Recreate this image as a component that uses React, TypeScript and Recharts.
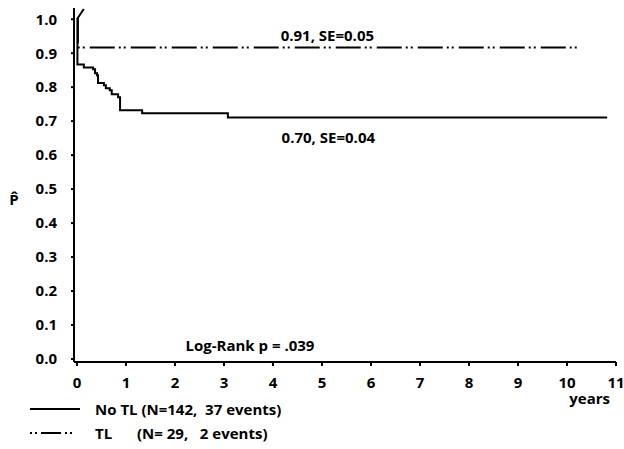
import { LineChart, Line, XAxis, YAxis, ReferenceDot, Label } from "recharts";

const FONT = "'Open Sans', 'Liberation Sans', sans-serif";

// No TL (N=142, 37 events) - Kaplan-Meier steps
const noTlTimes = [0, 0.01, 0.14, 0.33, 0.37, 0.41, 0.43, 0.55, 0.59, 0.67, 0.71, 0.84, 0.88, 1.33, 3.08, 10.82];
const noTlP = [1.0, 0.867, 0.858, 0.853, 0.841, 0.835, 0.812, 0.806, 0.797, 0.791, 0.779, 0.77, 0.732, 0.723, 0.711, 0.711];

// TL (N=29, 2 events)
const tlTimes = [0, 0.02, 10.2];
const tlP = [1.0, 0.917, 0.917];

// small stroke above the top left corner in the original
const markTimes = [0, 0.14];
const markP = [1.0, 1.03];

const xTicks = [0, 1, 2, 3, 4, 5, 6, 7, 8, 9, 10, 11];
const yTicks = [0, 0.1, 0.2, 0.3, 0.4, 0.5, 0.6, 0.7, 0.8, 0.9, 1.0];

const toRows = (ts: number[], ps: number[]) => ts.map((t, i) => ({ t, p: ps[i] }));
const noTlData = toRows(noTlTimes, noTlP);
const tlData = toRows(tlTimes, tlP);
const markData = toRows(markTimes, markP);

const TL_DASH = "25 4 2 3 2 5";

const labelStyle = { fill: "#000", fontSize: 15, fontWeight: 700, fontFamily: FONT };

// P-hat axis title, sits left of the tick labels a bit below mid-height
function YTitle(props: any) {
  const vb = props.viewBox || {};
  const x = vb.x - 16;
  const y = vb.y + vb.height * 0.557;
  return (
    <text x={x} y={y} fontSize={15} fontWeight={700} fontFamily={FONT} fill="#000" textAnchor="middle">
      {"P\u0302"}
    </text>
  );
}

export default function App() {
  return (
    <div style={{ position: "absolute", left: 0, top: 0, width: 624, height: 449, background: "#fff" }}>
      <LineChart width={624} height={449} margin={{ top: 8, right: 8, left: 30, bottom: 39 }}>
        <XAxis
          type="number"
          dataKey="t"
          domain={[-0.06, 11]}
          ticks={xTicks}
          allowDataOverflow
          height={48}
          tickSize={4}
          tickMargin={11}
          axisLine={{ stroke: "#000", strokeWidth: 2 }}
          tickLine={{ stroke: "#000", strokeWidth: 2 }}
          tick={{ fill: "#000", fontSize: 15, fontWeight: 700, fontFamily: FONT }}
        >
          <Label value="years" position="insideBottomRight" offset={6} {...labelStyle} />
        </XAxis>
        <YAxis
          type="number"
          dataKey="p"
          domain={[-0.0088, 1.033]}
          ticks={yTicks}
          allowDataOverflow
          width={44}
          tickSize={3}
          tickMargin={14}
          tickFormatter={(v: number) => v.toFixed(1)}
          axisLine={{ stroke: "#000", strokeWidth: 2 }}
          tickLine={{ stroke: "#000", strokeWidth: 2 }}
          tick={{ fill: "#000", fontSize: 15, fontWeight: 700, fontFamily: FONT }}
        >
          <Label content={<YTitle />} />
        </YAxis>
        <Line
          data={markData}
          dataKey="p"
          type="linear"
          stroke="#000"
          strokeWidth={2}
          dot={false}
          activeDot={false}
          isAnimationActive={false}
        />
        <Line
          data={noTlData}
          dataKey="p"
          type="stepAfter"
          stroke="#000"
          strokeWidth={2}
          dot={false}
          activeDot={false}
          isAnimationActive={false}
        />
        <Line
          data={tlData}
          dataKey="p"
          type="stepAfter"
          stroke="#000"
          strokeWidth={2}
          strokeDasharray={TL_DASH}
          dot={false}
          activeDot={false}
          isAnimationActive={false}
        />
        <ReferenceDot x={5.11} y={0.953} r={0} fill="none" stroke="none" ifOverflow="visible"
          label={{ value: "0.91, SE=0.05", position: "center", ...labelStyle }} />
        <ReferenceDot x={5.13} y={0.65} r={0} fill="none" stroke="none" ifOverflow="visible"
          label={{ value: "0.70, SE=0.04", position: "center", ...labelStyle }} />
        <ReferenceDot x={3.53} y={0.04} r={0} fill="none" stroke="none" ifOverflow="visible"
          label={{ value: "Log-Rank p = .039", position: "center", ...labelStyle }} />
      </LineChart>
      <div
        style={{
          position: "absolute",
          left: 30,
          top: 397,
          fontFamily: FONT,
          fontWeight: 700,
          fontSize: 15,
          color: "#000",
          lineHeight: "24px",
          whiteSpace: "pre",
        }}
      >
        <div style={{ display: "flex", alignItems: "center" }}>
          <svg width={65} height={24}>
            <line x1={0} y1={12} x2={50} y2={12} stroke="#000" strokeWidth={2} />
          </svg>
          <span>No TL (N=142,  37 events)</span>
        </div>
        <div style={{ display: "flex", alignItems: "center" }}>
          <svg width={65} height={24}>
            <line x1={0} y1={12} x2={50} y2={12} stroke="#000" strokeWidth={2} strokeDasharray="2 3 2 4 20 4 2 3 2 10" />
          </svg>
          <span style={{ display: "inline-block", width: 42 }}>TL</span>
          <span>(N= 29,   2 events)</span>
        </div>
      </div>
    </div>
  );
}
